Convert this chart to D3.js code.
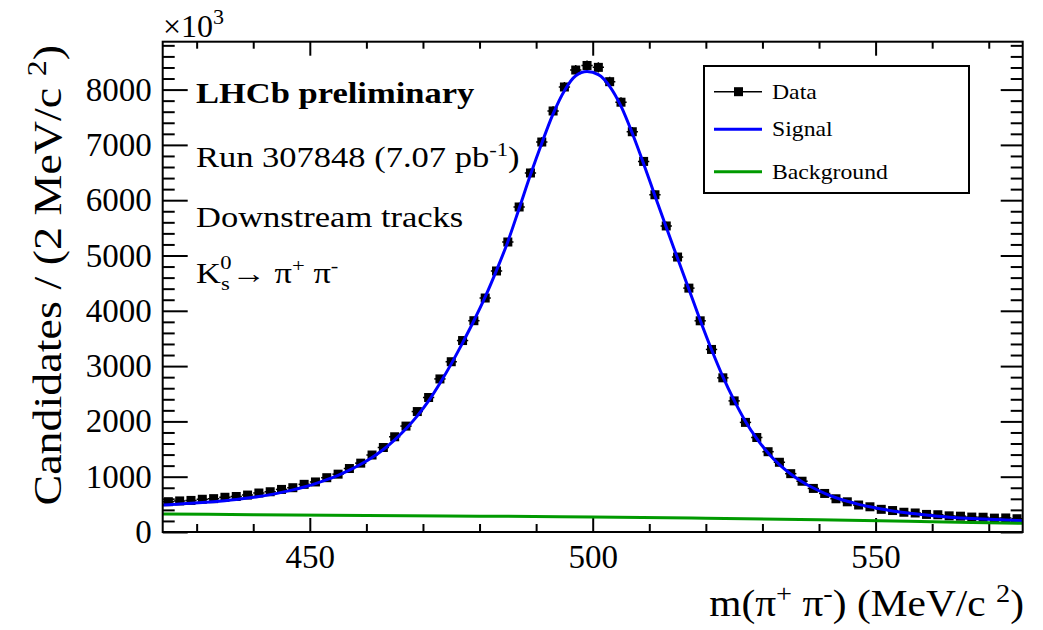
<!DOCTYPE html>
<html>
<head>
<meta charset="utf-8">
<script src="https://cdn.jsdelivr.net/npm/d3@7"></script>
<style>
  html, body { margin: 0; padding: 0; background: #fff; }
  svg { display: block; font-family: "Liberation Serif", "DejaVu Serif", serif; }
</style>
</head>
<body>
<svg width="1043" height="630"></svg>
<script>
// K0s -> pi+ pi- invariant mass, downstream tracks, run 307848

// bin centres (2 MeV bins)
const massBins = [425, 427, 429, 431, 433, 435, 437, 439, 441, 443, 445, 447, 449, 451, 453, 455, 457, 459, 461, 463,
  465, 467, 469, 471, 473, 475, 477, 479, 481, 483, 485, 487, 489, 491, 493, 495, 497, 499, 501, 503,
  505, 507, 509, 511, 513, 515, 517, 519, 521, 523, 525, 527, 529, 531, 533, 535, 537, 539, 541, 543,
  545, 547, 549, 551, 553, 555, 557, 559, 561, 563, 565, 567, 569, 571, 573, 575];

const dataCounts = [548, 562, 571, 592, 603, 628, 642, 668, 705, 728, 770, 801, 862, 905, 982, 1046, 1148, 1245, 1392, 1528,
  1722, 1915, 2178, 2432, 2768, 3079, 3462, 3821, 4231, 4720, 5244, 5877, 6492, 7052, 7613, 8047, 8354, 8436, 8402, 8143,
  7772, 7238, 6701, 6098, 5534, 4972, 4410, 3819, 3301, 2788, 2371, 1982, 1709, 1452, 1261, 1055, 918, 788, 697, 601,
  546, 488, 456, 410, 388, 357, 344, 318, 312, 292, 286, 270, 267, 251, 254, 240];

// fitted curve ("Signal")
const fitMass = [424, 425, 427, 429, 431, 433, 435, 437, 439, 441, 443, 445, 447, 449, 451, 453, 455, 457, 459, 461, 463,
  465, 467, 469, 471, 473, 475, 477, 479, 481, 483, 485, 487, 489, 491, 493, 495, 497, 499, 501, 503,
  505, 507, 509, 511, 513, 515, 517, 519, 521, 523, 525, 527, 529, 531, 533, 535, 537, 539, 541, 543,
  545, 547, 549, 551, 553, 555, 557, 559, 561, 563, 565, 567, 569, 571, 573, 575, 576];

const fitSignal = [490, 494, 506, 519, 533, 549, 567, 588, 613, 642, 676, 716, 762, 815, 876, 946, 1026, 1118, 1224, 1348, 1492,
  1666, 1866, 2100, 2370, 2690, 3040, 3420, 3820, 4250, 4730, 5250, 5850, 6460, 7030, 7560, 7980, 8250, 8325, 8270, 8060,
  7700, 7210, 6660, 6080, 5510, 4950, 4390, 3830, 3300, 2810, 2380, 2000, 1690, 1430, 1220, 1050, 910, 795, 700, 620,
  555, 500, 455, 415, 380, 352, 328, 307, 284, 268, 254, 243, 234, 226, 216, 207, 203];

// background component
const bkgMass = [424, 440, 460, 480, 500, 520, 540, 560, 576];
const bkgCounts = [325, 314, 300, 287, 270, 248, 220, 185, 158];

const yMajor = [0, 1000, 2000, 3000, 4000, 5000, 6000, 7000, 8000];
const xMajor = [450, 500, 550];
const legendLabels = ["Data", "Signal", "Background"];

let svg = d3.select("svg"),
    width = +svg.attr("width"),
    height = +svg.attr("height"),
    margin = {top: 41.7, right: 20.3, bottom: 98, left: 162.7},
    w = width - margin.left - margin.right,
    h = height - margin.top - margin.bottom,
    g = svg.append("g").attr("transform", "translate(" + margin.left + "," + margin.top + ")");

let x = d3.scaleLinear().domain([424, 576]).range([0, w]);
let y = d3.scaleLinear().domain([0, 8866]).range([h, 0]);

let yMinor = d3.range(0, 8866, 200).filter(d => d % 1000 !== 0);
let xMinor = d3.range(430, 576, 10).filter(d => d % 50 !== 0);

g.append("clipPath").attr("id", "frame")
  .append("rect").attr("width", w).attr("height", h);

// axes, ticks pointing inward like ROOT
function styleAxis(sel) {
  sel.select(".domain").remove();
  sel.selectAll(".tick line").attr("stroke", "#000").attr("stroke-width", 2);
  sel.selectAll(".tick text").attr("fill", "#000").attr("font-size", 33)
    .attr("font-family", "Liberation Serif, serif");
}

g.append("g").call(d3.axisLeft(y).tickValues(yMajor).tickSize(-25).tickPadding(11).tickFormat(d3.format("d"))).call(styleAxis);
g.append("g").call(d3.axisLeft(y).tickValues(yMinor).tickSize(-12).tickFormat("")).call(styleAxis);
g.append("g").attr("transform", "translate(" + w + ",0)")
  .call(d3.axisRight(y).tickValues(yMajor).tickSize(-22).tickFormat("")).call(styleAxis);
g.append("g").attr("transform", "translate(" + w + ",0)")
  .call(d3.axisRight(y).tickValues(yMinor).tickSize(-12).tickFormat("")).call(styleAxis);

g.append("g").attr("transform", "translate(0," + h + ")")
  .call(d3.axisBottom(x).tickValues(xMajor).tickSize(-14).tickPadding(13).tickFormat(d3.format("d"))).call(styleAxis);
g.append("g").attr("transform", "translate(0," + h + ")")
  .call(d3.axisBottom(x).tickValues(xMinor).tickSize(-8).tickFormat("")).call(styleAxis);
g.append("g").call(d3.axisTop(x).tickValues(xMajor).tickSize(-14).tickFormat("")).call(styleAxis);
g.append("g").call(d3.axisTop(x).tickValues(xMinor).tickSize(-7).tickFormat("")).call(styleAxis);

// data points with errors
let pts = g.append("g").attr("clip-path", "url(#frame)");
let data = massBins.map((m, i) => ({m: m, n: dataCounts[i]}));

pts.selectAll("line.ex").data(data).enter().append("line")
  .attr("x1", d => x(d.m - 1)).attr("x2", d => x(d.m + 1))
  .attr("y1", d => y(d.n)).attr("y2", d => y(d.n))
  .attr("stroke", "#000").attr("stroke-width", 1.5);
pts.selectAll("line.ey").data(data).enter().append("line")
  .attr("x1", d => x(d.m)).attr("x2", d => x(d.m))
  .attr("y1", d => y(d.n - Math.sqrt(d.n))).attr("y2", d => y(d.n + Math.sqrt(d.n)))
  .attr("stroke", "#000").attr("stroke-width", 1.5);
pts.selectAll("rect").data(data).enter().append("rect")
  .attr("x", d => x(d.m) - 4.5).attr("y", d => y(d.n) - 4.5)
  .attr("width", 9).attr("height", 9).attr("fill", "#000");

// signal curve
let line = d3.line().curve(d3.curveMonotoneX);
pts.append("path")
  .attr("d", line(fitMass.map((m, i) => [x(m), y(fitSignal[i])])))
  .attr("fill", "none").attr("stroke", "#0000ff").attr("stroke-width", 3);

// background
pts.append("path")
  .attr("d", line(bkgMass.map((m, i) => [x(m), y(bkgCounts[i])])))
  .attr("fill", "none").attr("stroke", "#009a00").attr("stroke-width", 3);

// frame
g.append("rect").attr("width", w).attr("height", h)
  .attr("fill", "none").attr("stroke", "#000").attr("stroke-width", 2);

// x10^3 multiplier
let mult = svg.append("text").attr("x", 163).attr("y", 37).attr("font-size", 32);
mult.append("tspan").text("\u00d710");
mult.append("tspan").attr("font-size", 22).attr("dy", -13).text("3");

// axis titles (ROOT text is a bit wider than Liberation, so stretch along the text)
let yt = svg.append("text")
  .attr("transform", "translate(61,45) rotate(-90) scale(1.18,1)")
  .attr("text-anchor", "end").attr("font-size", 39);
yt.append("tspan").text("Candidates / (2 MeV/c ");
yt.append("tspan").attr("font-size", 27).attr("dy", -15).text("2");
yt.append("tspan").attr("dy", 15).text(")");

let xt = svg.append("text")
  .attr("transform", "translate(1024,616) scale(1.09,1)")
  .attr("text-anchor", "end").attr("font-size", 38);
xt.append("tspan").text("m(\u03c0");
xt.append("tspan").attr("font-size", 26).attr("dy", -14).text("+");
xt.append("tspan").attr("dy", 14).text(" \u03c0");
xt.append("tspan").attr("font-size", 26).attr("dy", -14).text("-");
xt.append("tspan").attr("dy", 14).text(") (MeV/c ");
xt.append("tspan").attr("font-size", 26).attr("dy", -14).text("2");
xt.append("tspan").attr("dy", 14).text(")");

// labels
let info = svg.append("g").attr("font-size", 29);
function infoLine(yPos) {
  return info.append("text").attr("transform", "translate(196," + yPos + ") scale(1.19,1)");
}
infoLine(103).attr("font-weight", "bold").text("LHCb preliminary");
let run = infoLine(167);
run.append("tspan").text("Run 307848 (7.07 pb");
run.append("tspan").attr("font-size", 19).attr("dy", -11).text("-1");
run.append("tspan").attr("dy", 11).text(")");
infoLine(227).text("Downstream tracks");

let k = infoLine(283);
k.append("tspan").text("K");
k.append("tspan").attr("font-size", 19).attr("dy", 7).text("s");
k.append("tspan").attr("font-size", 19).attr("dx", -8).attr("dy", -21).text("0");
k.append("tspan").attr("dy", 14).text("\u2192 \u03c0");
k.append("tspan").attr("font-size", 19).attr("dy", -11).text("+");
k.append("tspan").attr("dy", 11).text(" \u03c0");
k.append("tspan").attr("font-size", 19).attr("dy", -11).text("-");

// legend
let leg = svg.append("g");
leg.append("rect").attr("x", 704).attr("y", 66).attr("width", 265).attr("height", 127)
  .attr("fill", "#fff").attr("stroke", "#000").attr("stroke-width", 2);
let legY = [91.7, 129.3, 171.7];
let legColor = ["#000", "#0000ff", "#009a00"];
let legWidth = [1.5, 3, 3];
legendLabels.forEach(function (lab, i) {
  leg.append("line").attr("x1", 714).attr("x2", 762).attr("y1", legY[i]).attr("y2", legY[i])
    .attr("stroke", legColor[i]).attr("stroke-width", legWidth[i]);
  leg.append("text").attr("transform", "translate(772," + (legY[i] + 7) + ") scale(1.13,1)")
    .attr("font-size", 21).text(lab);
});
leg.append("rect").attr("x", 734).attr("y", legY[0] - 4.5).attr("width", 9).attr("height", 9).attr("fill", "#000");
</script>
</body>
</html>
